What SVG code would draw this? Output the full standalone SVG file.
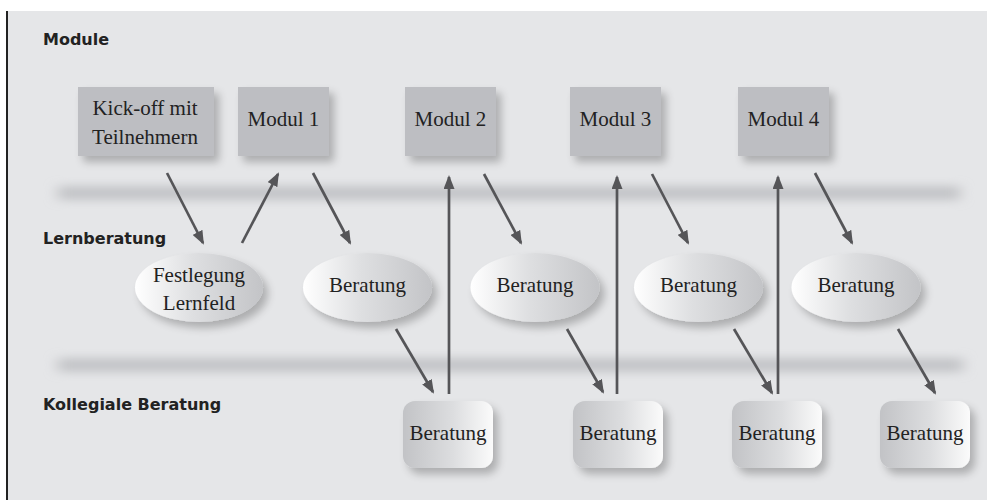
<svg xmlns="http://www.w3.org/2000/svg" width="987" height="500" viewBox="0 0 987 500">
<defs>
<style>
.hdr{font-family:"DejaVu Sans",sans-serif;font-weight:bold;font-size:16px;fill:#222}
.lbl{font-family:"Liberation Serif","Times New Roman",serif;font-size:21px;fill:#222;text-anchor:middle}
.mod{fill:#bdbec2;filter:url(#sh)}
.ell{fill:url(#gEll);filter:url(#sh)}
.rbox{fill:url(#gBox);filter:url(#sh)}
.arr{stroke:#555558;stroke-width:2.7;fill:none;marker-end:url(#ah)}
.band{fill:#c3c4c7;filter:url(#blur)}
</style>
<linearGradient id="gEll" x1="0" y1="0" x2="1" y2="0">
<stop offset="0" stop-color="#ffffff"/>
<stop offset="0.45" stop-color="#dedfe1"/>
<stop offset="1" stop-color="#c3c4c7"/>
</linearGradient>
<linearGradient id="gBox" x1="0" y1="0" x2="1" y2="0">
<stop offset="0" stop-color="#c2c3c6"/>
<stop offset="0.55" stop-color="#dcdddf"/>
<stop offset="1" stop-color="#fbfbfb"/>
</linearGradient>
<filter id="sh" x="-20%" y="-20%" width="150%" height="160%">
<feGaussianBlur in="SourceAlpha" stdDeviation="4.5"/>
<feOffset dx="5" dy="6" result="o"/>
<feComponentTransfer><feFuncA type="linear" slope="0.25"/></feComponentTransfer>
<feMerge><feMergeNode/><feMergeNode in="SourceGraphic"/></feMerge>
</filter>
<filter id="blur" x="-5%" y="-150%" width="110%" height="400%">
<feGaussianBlur stdDeviation="7 5"/>
</filter>
<marker id="ah" viewBox="0 0 14 11" refX="12" refY="5.5" markerWidth="14" markerHeight="11" markerUnits="userSpaceOnUse" orient="auto">
<path d="M0,0 L14,5.5 L0,11 Z" fill="#555558"/>
</marker>
</defs>

<rect x="8" y="11" width="979" height="489" fill="#e5e6e8"/>
<line x1="7" y1="11" x2="7" y2="500" stroke="#222" stroke-width="2"/>

<g id="bands">
<rect class="band" x="58" y="186" width="902" height="14"/>
<rect class="band" x="58" y="358" width="905" height="14"/>
</g>

<g id="headers">
<text class="hdr" x="43" y="45">Module</text>
<text class="hdr" x="43" y="244">Lernberatung</text>
<text class="hdr" x="43" y="410">Kollegiale Beratung</text>
</g>

<g id="kickoff"><rect class="mod" x="78" y="87" width="136" height="69"/>
<text class="lbl" x="145" y="115">Kick-off mit</text><text class="lbl" x="145" y="144">Teilnehmern</text></g>
<g id="modul1"><rect class="mod" x="238" y="87" width="91" height="69"/><text class="lbl" x="283.5" y="126">Modul 1</text></g>
<g id="modul2"><rect class="mod" x="405" y="87" width="91" height="69"/><text class="lbl" x="450.5" y="126">Modul 2</text></g>
<g id="modul3"><rect class="mod" x="570" y="87" width="91" height="69"/><text class="lbl" x="615.5" y="126">Modul 3</text></g>
<g id="modul4"><rect class="mod" x="738" y="87" width="91" height="69"/><text class="lbl" x="783.5" y="126">Modul 4</text></g>

<g id="festlegung"><ellipse class="ell" cx="199" cy="287.5" rx="64" ry="34.5"/>
<text class="lbl" x="199" y="282">Festlegung</text><text class="lbl" x="199" y="310">Lernfeld</text></g>
<g id="lb1"><ellipse class="ell" cx="367.5" cy="287.5" rx="64.5" ry="34.5"/><text class="lbl" x="367.5" y="292">Beratung</text></g>
<g id="lb2"><ellipse class="ell" cx="535" cy="287.5" rx="64.5" ry="34.5"/><text class="lbl" x="535" y="292">Beratung</text></g>
<g id="lb3"><ellipse class="ell" cx="698.5" cy="287.5" rx="64.5" ry="34.5"/><text class="lbl" x="698.5" y="292">Beratung</text></g>
<g id="lb4"><ellipse class="ell" cx="856" cy="287.5" rx="64.5" ry="34.5"/><text class="lbl" x="856" y="292">Beratung</text></g>

<g id="kb1"><rect class="rbox" x="403" y="401" width="90" height="67" rx="12"/><text class="lbl" x="448" y="440">Beratung</text></g>
<g id="kb2"><rect class="rbox" x="573" y="401" width="90" height="67" rx="12"/><text class="lbl" x="618" y="440">Beratung</text></g>
<g id="kb3"><rect class="rbox" x="732" y="401" width="90" height="67" rx="12"/><text class="lbl" x="777" y="440">Beratung</text></g>
<g id="kb4"><rect class="rbox" x="880" y="401" width="90" height="67" rx="12"/><text class="lbl" x="925" y="440">Beratung</text></g>

<g id="connectors">
<line class="arr" x1="167" y1="173" x2="203" y2="243"/>
<line class="arr" x1="242" y1="243" x2="278" y2="174"/>
<line class="arr" x1="313" y1="173" x2="350" y2="243"/>
<line class="arr" x1="396" y1="329" x2="433" y2="392"/>
<line class="arr" x1="449" y1="394" x2="449" y2="177"/>
<line class="arr" x1="484" y1="174" x2="521" y2="243"/>
<line class="arr" x1="567" y1="329" x2="603" y2="392"/>
<line class="arr" x1="617" y1="394" x2="617" y2="177"/>
<line class="arr" x1="652" y1="174" x2="688" y2="243"/>
<line class="arr" x1="734" y1="329" x2="772" y2="393"/>
<line class="arr" x1="778" y1="394" x2="778" y2="177"/>
<line class="arr" x1="815" y1="173" x2="852" y2="243"/>
<line class="arr" x1="898" y1="329" x2="935" y2="393"/>
</g>
</svg>
